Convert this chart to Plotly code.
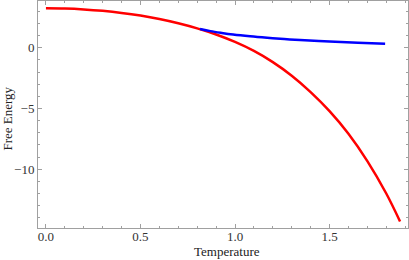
import plotly.graph_objects as go

# Red branch
red_T = [0.0, 0.1, 0.2, 0.3, 0.4, 0.5, 0.6, 0.7, 0.8, 0.9, 1.0, 1.1, 1.2, 1.3, 1.4, 1.5, 1.6, 1.7, 1.8, 1.873]
red_F = [3.25, 3.23, 3.16, 3.04, 2.87, 2.65, 2.37, 2.02, 1.60, 1.09, 0.48, -0.26, -1.18, -2.3, -3.65, -5.22, -7.08, -9.33, -12.0, -14.3]
# Blue branch
blue_T = [0.815, 0.87, 0.93, 0.99, 1.08, 1.17, 1.26, 1.344, 1.5, 1.65, 1.794]
blue_F = [1.55, 1.37, 1.22, 1.09, 0.94, 0.82, 0.72, 0.64, 0.51, 0.41, 0.33]

xticks = [0.0, 0.5, 1.0, 1.5]
xticklabels = ["0.0", "0.5", "1.0", "1.5"]
yticks = [0, -5, -10]
yticklabels = ["0", "\u22125", "\u221210"]

fig = go.Figure()
fig.add_trace(go.Scatter(x=red_T, y=red_F, mode="lines", line=dict(color="#ff0000", width=2.5, shape="spline"), showlegend=False))
fig.add_trace(go.Scatter(x=blue_T, y=blue_F, mode="lines", line=dict(color="#0000ff", width=2.5, shape="spline"), showlegend=False))

axis_common = dict(showgrid=False, zeroline=False, showline=True, linecolor="#a0a0a0", linewidth=1,
                   mirror="allticks", ticks="inside", ticklen=4, tickcolor="#a0a0a0", automargin=False,
                   tickfont=dict(family="Liberation Serif", size=13, color="#333333"))

fig.update_xaxes(range=[-0.042, 1.915], tickvals=xticks, ticktext=xticklabels, ticklabelstandoff=-4,
                 minor=dict(dtick=0.1, ticks="inside", ticklen=2, tickcolor="#a0a0a0"),
                 **axis_common)
fig.update_yaxes(range=[-14.84, 3.85], tickvals=yticks, ticktext=yticklabels,
                 minor=dict(dtick=1, ticks="inside", ticklen=2, tickcolor="#a0a0a0"),
                 **axis_common)

fig.add_annotation(text="Temperature", xref="paper", yref="paper", x=0.51, y=0, yshift=-14, yanchor="top",
                   showarrow=False, font=dict(family="Liberation Serif", size=13, color="#222222"))
fig.add_annotation(text="Free Energy", xref="paper", yref="paper", x=0, xshift=-21, xanchor="right", y=0.48,
                   textangle=-90, showarrow=False, font=dict(family="Liberation Serif", size=13, color="#222222"))

fig.update_layout(width=409, height=260, margin=dict(l=38, r=1, t=1, b=32),
                  paper_bgcolor="white", plot_bgcolor="white")
fig.write_html("out.html", config={"displayModeBar": False},
               post_script="document.body.style.margin='0';")
